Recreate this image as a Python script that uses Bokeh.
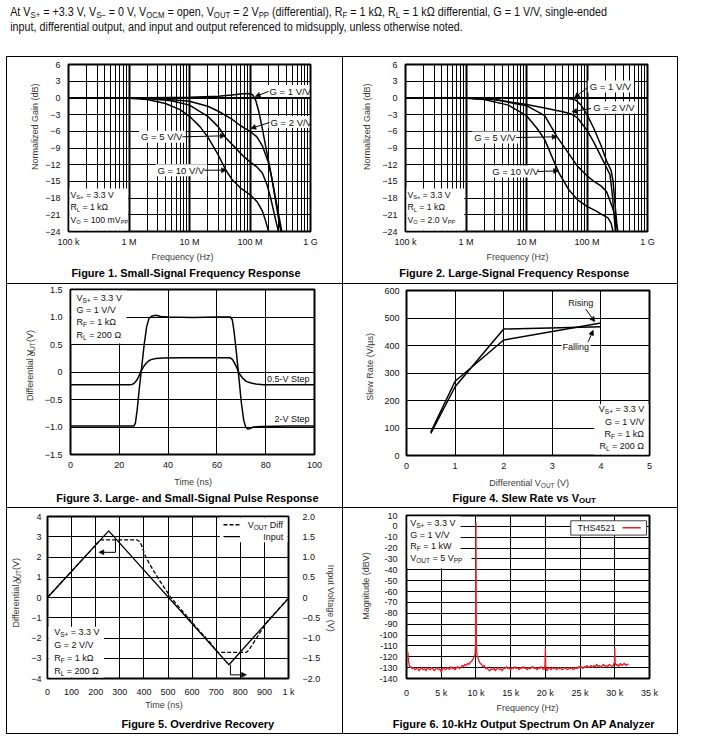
import math, re
from bokeh.plotting import figure
from bokeh.models import (Range1d, LinearAxis, FixedTicker, Label, BoxAnnotation,
                          Arrow, NormalHead, Span, Div, Spacer)
from bokeh.layouts import column, row
from bokeh.embed import file_html
from bokeh.resources import INLINE

FONT = "Liberation Sans"
TICK_C = "#111111"
TITLE_C = "#3a3a3a"

# ---------------- data ----------------
# Figure 1: small-signal frequency response (Hz, dB)
ss_g1_hz = [1e5, 1e6, 1e7, 3e7, 5e7, 7e7, 9e7, 1.1e8, 1.25e8, 1.4e8, 1.6e8, 1.8e8, 2.0e8, 2.3e8, 2.7e8, 3.1e8, 3.4e8]
ss_g1_db = [0.0, 0.0, 0.1, 0.3, 0.5, 0.7, 0.8, 0.6, -0.5, -2.5, -5.5, -8.5, -11.0, -14.5, -19.0, -23.0, -25.0]
ss_g2_hz = [1e5, 1e6, 3e6, 1e7, 2e7, 3e7, 5e7, 7e7, 1e8, 1.3e8, 1.6e8, 2e8, 2.3e8, 2.7e8, 3.1e8, 3.5e8]
ss_g2_db = [0.0, 0.0, -0.1, -0.6, -1.5, -2.4, -3.8, -5.0, -6.0, -7.0, -8.6, -11.5, -14.5, -18.5, -22.0, -25.0]
ss_g5_hz = [1e5, 1e6, 2e6, 5e6, 1e7, 2e7, 3e7, 4e7, 6e7, 8e7, 1e8, 1.3e8, 1.6e8, 1.9e8, 2.2e8, 2.6e8, 3.1e8]
ss_g5_db = [0.0, 0.0, -0.1, -0.5, -1.3, -3.3, -5.2, -7.2, -9.2, -10.6, -11.5, -12.4, -13.5, -15.5, -18.0, -21.5, -25.0]
ss_g10_hz = [1e5, 1e6, 2e6, 4e6, 7e6, 1e7, 1.5e7, 2e7, 3e7, 4e7, 5e7, 7e7, 1e8, 1.3e8, 1.6e8, 1.8e8, 2e8, 2.15e8]
ss_g10_db = [0.0, -0.05, -0.3, -1.0, -2.1, -3.3, -5.2, -7.0, -10.3, -13.0, -14.6, -16.2, -17.4, -18.6, -20.3, -22.0, -23.8, -25.0]

# Figure 2: large-signal frequency response (Hz, dB)
ls_g1_hz = [1e5, 1e6, 1e7, 3e7, 5e7, 6.5e7, 8e7, 1e8, 1.3e8, 1.7e8, 2.1e8, 2.5e8, 2.7e8, 2.9e8, 3.1e8, 3.3e8]
ls_g1_db = [0.0, 0.0, 0.0, 0.0, -0.1, -0.4, -1.3, -3.0, -5.5, -8.5, -11.3, -13.0, -15.0, -19.0, -22.5, -25.0]
ls_g2_hz = [1e5, 1e6, 3e6, 1e7, 2e7, 3e7, 4e7, 5.5e7, 7e7, 1e8, 1.3e8, 1.7e8, 2.1e8, 2.4e8, 2.6e8, 2.8e8, 3.0e8]
ls_g2_db = [0.0, 0.0, -0.3, -1.2, -1.8, -2.2, -2.5, -2.9, -3.6, -5.8, -8.0, -10.5, -12.5, -13.8, -17.0, -21.0, -25.0]
ls_g5_hz = [1e5, 1e6, 3e6, 1e7, 2e7, 3.2e7, 5e7, 7e7, 1e8, 1.3e8, 1.7e8, 2.1e8, 2.4e8, 2.7e8, 3.0e8, 3.3e8]
ls_g5_db = [0.0, 0.0, -0.3, -1.4, -3.2, -7.0, -10.0, -12.3, -14.0, -15.0, -15.8, -16.8, -18.5, -20.0, -22.0, -25.0]
ls_g10_hz = [1e5, 1e6, 2e6, 5e6, 1e7, 1.5e7, 2e7, 3.4e7, 5e7, 7e7, 1e8, 1.4e8, 1.8e8, 2.2e8, 2.5e8, 2.7e8, 2.85e8]
ls_g10_db = [0.0, -0.05, -0.3, -1.3, -3.2, -5.5, -7.5, -13.4, -16.5, -18.3, -19.5, -20.3, -21.0, -21.5, -22.5, -24.0, -25.0]

freq_ticks = [1e5, 1e6, 1e7, 1e8, 1e9]
freq_labels = ["100 k", "1 M", "10 M", "100 M", "1 G"]
gain_ticks = [-24, -21, -18, -15, -12, -9, -6, -3, 0, 3, 6]
gain_labels = ["\u221224", "\u221221", "\u221218", "\u221215", "\u221212", "\u22129", "\u22126", "\u22123", "0", "3", "6"]

# Figure 3: pulse response (ns, V)
step2_ns = [0, 26.0, 26.6, 27.3, 28.2, 29.2, 30.2, 31.2, 32.2, 33.5, 35, 37, 40, 50, 60, 65.5,
            66.3, 67, 68, 69, 70, 71, 71.8, 72.6, 73.5, 75, 78, 90, 100]
step2_v = [-0.98, -0.98, -0.93, -0.7, -0.3, 0.1, 0.5, 0.82, 0.98, 1.02, 1.03, 1.01, 1.0, 0.99, 1.0, 1.0,
           0.95, 0.75, 0.35, -0.1, -0.55, -0.88, -1.0, -1.035, -1.03, -1.0, -0.99, -0.98, -0.98]
step05_ns = [0, 25, 26, 27, 28, 29, 30, 31, 32, 33, 35, 38, 45, 55, 65, 65.8, 66.5, 67.5, 68.5,
             69.5, 70.5, 72, 74, 76, 79, 85, 100]
step05_v = [-0.23, -0.23, -0.21, -0.16, -0.08, 0.02, 0.1, 0.16, 0.2, 0.225, 0.245, 0.255, 0.26, 0.26,
            0.26, 0.25, 0.22, 0.14, 0.04, -0.05, -0.11, -0.17, -0.2, -0.22, -0.23, -0.23, -0.23]
t3_ticks = [0, 20, 40, 60, 80, 100]
t3_labels = ["0", "20", "40", "60", "80", "100"]
v3_ticks = [-1.5, -1.0, -0.5, 0, 0.5, 1.0, 1.5]
v3_labels = ["\u22121.5", "\u22121.0", "\u22120.5", "0", "0.5", "1.0", "1.5"]

# Figure 4: slew rate vs Vout
vout_v = [0.5, 1, 2, 4]
rising_sr = [85, 270, 420, 482]
falling_sr = [80, 250, 460, 468]
x4_ticks = [0, 1, 2, 3, 4, 5]
x4_labels = ["0", "1", "2", "3", "4", "5"]
y4_ticks = [0, 100, 200, 300, 400, 500, 600]
y4_labels = ["0", "100", "200", "300", "400", "500", "600"]

# Figure 5: overdrive recovery
input_ns = [0, 254, 753, 1000]
input_v = [0.0, 1.645, -1.66, -0.02]
vout_ns = [0, 220, 370, 383, 393, 403, 425, 465, 512, 560, 620, 680, 706, 825,
           835, 845, 858, 872, 890, 910, 1000]
vout_diff = [0.0, 2.85, 2.85, 2.76, 2.5, 2.12, 1.62, 0.84, 0.0, -0.68, -1.5, -2.3, -2.71, -2.71,
             -2.6, -2.42, -2.18, -1.92, -1.58, -1.22, -0.02]
t5_ticks = [0, 100, 200, 300, 400, 500, 600, 700, 800, 900, 1000]
t5_labels = ["0", "100", "200", "300", "400", "500", "600", "700", "800", "900", "1 k"]
v5_ticks = [-4, -3, -2, -1, 0, 1, 2, 3, 4]
v5_labels = ["\u22124", "\u22123", "\u22122", "\u22121", "0", "1", "2", "3", "4"]
in5_ticks = [-2.0, -1.5, -1.0, -0.5, 0, 0.5, 1.0, 1.5, 2.0]
in5_labels = ["\u22122.0", "\u22121.5", "\u22121.0", "\u22120.5", "0", "0.5", "1.0", "1.5", "2.0"]

# Figure 6: output spectrum (kHz, dBV)
spec_khz = [0.2, 0.3, 0.45, 0.6, 0.8, 1.0, 1.2, 1.4, 1.6, 1.8,
            2.0, 2.2, 2.4, 2.6, 2.8, 3.0, 3.2, 3.4, 3.6, 3.8,
            4.0, 4.2, 4.4, 4.6, 4.8, 5.0, 5.2, 5.4, 5.6, 5.8,
            6.0, 6.2, 6.4, 6.6, 6.8, 7.0, 7.2, 7.4, 7.6, 7.8,
            8.0, 8.2, 8.4, 8.6, 8.8, 9.0, 9.2, 9.4, 9.6, 9.75,
            9.88, 9.94, 9.98, 10.0, 10.02, 10.06, 10.12, 10.2, 10.3, 10.45,
            10.6, 10.8, 11.0, 11.2, 11.4, 11.6, 11.8, 12.0, 12.2, 12.4,
            12.6, 12.8, 13.0, 13.2, 13.4, 13.6, 13.8, 14.0, 14.2, 14.4,
            14.6, 14.8, 15.0, 15.2, 15.4, 15.6, 15.8, 16.0, 16.2, 16.4,
            16.6, 16.8, 17.0, 17.2, 17.4, 17.6, 17.8, 18.0, 18.2, 18.4,
            18.6, 18.8, 19.0, 19.2, 19.4, 19.6, 19.8, 19.95, 20.0, 20.05,
            20.2, 20.4, 20.6, 20.8, 21.0, 21.2, 21.4, 21.6, 21.8, 22.0,
            22.2, 22.4, 22.6, 22.8, 23.0, 23.2, 23.4, 23.6, 23.8, 24.0,
            24.2, 24.4, 24.6, 24.8, 25.0, 25.2, 25.4, 25.6, 25.8, 26.0,
            26.2, 26.4, 26.6, 26.8, 27.0, 27.2, 27.4, 27.6, 27.8, 28.0,
            28.2, 28.4, 28.6, 28.8, 29.0, 29.2, 29.4, 29.6, 29.8, 29.95,
            30.0, 30.05, 30.2, 30.4, 30.6, 30.8, 31.0, 31.2, 31.4, 31.6,
            31.8, 32.0]
spec_dbv = [-116, -124, -130, -129, -131, -130, -132, -131, -130, -133,
            -131, -130, -132, -131, -133, -130, -131, -132, -130, -131,
            -133, -131, -130, -132, -131, -134, -131, -130, -132, -131,
            -130, -132, -129, -131, -130, -132, -130, -129, -131, -130,
            -128, -129, -127, -128, -126, -127, -125, -124, -122, -120,
            -118, -108, -30, 4, -30, -108, -117, -119, -121, -124,
            -126, -127, -129, -128, -131, -130, -132, -133, -131, -132,
            -130, -133, -131, -130, -132, -131, -133, -130, -131, -129,
            -131, -130, -132, -130, -131, -129, -131, -130, -132, -130,
            -131, -129, -131, -130, -132, -130, -131, -130, -129, -131,
            -130, -132, -130, -131, -129, -131, -132, -128, -112, -128,
            -133, -131, -130, -132, -130, -131, -130, -132, -130, -131,
            -130, -132, -131, -130, -131, -132, -130, -131, -130, -132,
            -131, -130, -131, -129, -130, -129, -131, -129, -130, -128,
            -130, -129, -128, -130, -128, -129, -127, -129, -128, -130,
            -128, -127, -129, -128, -129, -127, -128, -129, -128, -125,
            -112, -125, -128, -127, -129, -126, -128, -127, -126, -128,
            -127, -127]
f6_ticks = [0, 5000, 10000, 15000, 20000, 25000, 30000, 35000]
f6_labels = ["0", "5 k", "10 k", "15 k", "20 k", "25 k", "30 k", "35 k"]
m6_ticks = [-140, -130, -120, -110, -100, -90, -80, -70, -60, -50, -40, -30, -20, -10, 0, 10]
m6_labels = ["-140", "-130", "-120", "-110", "-100", "-90", "-80", "-70", "-60", "-50",
             "-40", "-30", "-20", "-10", "0", "10"]

# ---------------- text metrics (Arial / Liberation Sans, per 1000 em) ----------------
AW = {' ': 278, '!': 278, '(': 333, ')': 333, '+': 584, ',': 278, '-': 333, '.': 278, '/': 278,
      ':': 278, '=': 584, '\u03a9': 768, '\u00b5': 577, '\u2212': 584, '\u2013': 556,
      'A': 667, 'B': 667, 'C': 722, 'D': 722, 'E': 667, 'F': 611, 'G': 778, 'H': 722, 'I': 278,
      'J': 500, 'K': 667, 'L': 556, 'M': 833, 'N': 722, 'O': 778, 'P': 667, 'Q': 778, 'R': 722,
      'S': 667, 'T': 611, 'U': 722, 'V': 667, 'W': 944, 'X': 667, 'Y': 667, 'Z': 611,
      'a': 556, 'b': 556, 'c': 500, 'd': 556, 'e': 556, 'f': 278, 'g': 556, 'h': 556, 'i': 222,
      'j': 222, 'k': 500, 'l': 222, 'm': 833, 'n': 556, 'o': 556, 'p': 556, 'q': 556, 'r': 333,
      's': 500, 't': 278, 'u': 556, 'v': 500, 'w': 722, 'x': 500, 'y': 500, 'z': 500}
BW = {' ': 278, '.': 278, '-': 333,
      'A': 722, 'D': 722, 'F': 611, 'H': 722, 'L': 611, 'O': 778, 'P': 667, 'R': 722, 'S': 667,
      'T': 611, 'U': 722, 'V': 667,
      'a': 556, 'c': 556, 'd': 611, 'e': 556, 'g': 611, 'h': 611, 'i': 278, 'k': 556, 'l': 278,
      'm': 889, 'n': 611, 'o': 611, 'p': 611, 'q': 611, 'r': 389, 's': 556, 't': 333, 'u': 611,
      'v': 556, 'w': 778, 'y': 556, 'z': 500}


class Frame:
    """maps page pixel coordinates to data coordinates of a plot frame"""
    def __init__(self, fl, ft, fr, fb, x0, x1, y0, y1, xlog=False):
        self.fl, self.ft, self.fr, self.fb = fl, ft, fr, fb
        self.x0, self.x1, self.y0, self.y1, self.xlog = x0, x1, y0, y1, xlog

    def x(self, px):
        t = (px - self.fl) / (self.fr - self.fl)
        if self.xlog:
            a, b = math.log10(self.x0), math.log10(self.x1)
            return 10 ** (a + t * (b - a))
        return self.x0 + t * (self.x1 - self.x0)

    def y(self, py):
        t = (py - self.ft) / (self.fb - self.ft)
        return self.y1 - t * (self.y1 - self.y0)


class Ident:
    def x(self, px):
        return px

    def y(self, py):
        return py


ID = Ident()


def parse(s):
    parts, i = [], 0
    for m in re.finditer(r"_\{([^}]*)\}", s):
        if m.start() > i:
            parts.append((s[i:m.start()], False))
        parts.append((m.group(1), True))
        i = m.end()
    if i < len(s):
        parts.append((s[i:], False))
    return parts


def rich(p, F, px, py, s, size=9.0, align="left", angle=0.0, color="#111111", bold=False, subk=0.72):
    parts = parse(s)
    tbl = BW if bold else AW
    sub = size * subk
    ws = [sum(tbl.get(c, 556) for c in t) * (sub if sb else size) / 1000.0 for t, sb in parts]
    tot = sum(ws)
    pos = {"left": 0.0, "center": -tot / 2.0, "right": -tot}[align]
    ca, sa = math.cos(angle), math.sin(angle)
    for (t, sb), w in zip(parts, ws):
        fs = sub if sb else size
        lead = len(t) - len(t.lstrip(" "))
        txt = t.strip(" ")
        if txt:
            off = pos + lead * tbl[" "] * fs / 1000.0
            sh = size * 0.28 if sb else 0.0
            qx = px + off * ca + sh * sa
            qy = py - off * sa + sh * ca
            p.add_layout(Label(x=F.x(qx), y=F.y(qy), text=txt, angle=angle,
                               text_align="left", text_baseline="middle",
                               text_font=FONT, text_font_size=f"{fs:.1f}px",
                               text_color=color,
                               text_font_style="bold" if bold else "normal"))
        pos += w


def wbox(p, F, x0, y0, x1, y1, line=None):
    p.add_layout(BoxAnnotation(left=F.x(x0), right=F.x(x1), top=F.y(y0), bottom=F.y(y1),
                               fill_color="white", fill_alpha=1.0,
                               line_color=line, line_width=1, line_alpha=1.0))


def arrow(p, F, x0, y0, x1, y1, head=True, dash="solid", color="black", width=1.0):
    p.add_layout(Arrow(x_start=F.x(x0), y_start=F.y(y0), x_end=F.x(x1), y_end=F.y(y1),
                       start=None,
                       end=NormalHead(size=5, fill_color=color, line_color=color, line_width=0.5) if head else None,
                       line_color=color, line_width=width, line_dash=dash))


def make_fig(w, h, bl, br, bt, bb, xr, yr, xtype="linear"):
    p = figure(width=w, height=h, x_range=xr, y_range=yr, x_axis_type=xtype,
               output_backend="svg", toolbar_location=None,
               min_border_left=bl, min_border_right=br, min_border_top=bt, min_border_bottom=bb)
    p.outline_line_color = "black"
    p.outline_line_width = 2
    p.outline_line_alpha = 1.0
    p.background_fill_color = "white"
    p.border_fill_color = "white"
    p.grid.grid_line_color = "black"
    p.grid.grid_line_width = 1
    p.grid.grid_line_alpha = 1.0
    return p


def strip(x0, y0, w, h):
    """text-only panel whose data coordinates are page pixels"""
    s = figure(width=w, height=h, x_range=Range1d(x0, x0 + w), y_range=Range1d(y0 + h, y0),
               output_backend="svg", toolbar_location=None,
               x_axis_location=None, y_axis_location=None,
               min_border_left=0, min_border_right=0, min_border_top=0, min_border_bottom=0)
    s.outline_line_color = None
    s.background_fill_color = "white"
    s.border_fill_color = "white"
    s.grid.visible = False
    return s


def build_cell(x0, y0, W, H, frame, left_w, bottom_h, xr, yr, xtype="linear", right_w=0):
    fl, ft, fr, fb = frame
    top_h = H - bottom_h
    main_x0 = x0 + left_w
    main_w = W - left_w - right_w
    p = make_fig(main_w, top_h, fl - main_x0, (x0 + W - right_w) - fr, ft - y0,
                 (y0 + top_h) - fb, xr, yr, xtype)
    L = strip(x0, y0, left_w, top_h)
    B = strip(x0, y0 + top_h, W, bottom_h)
    R = strip(x0 + W - right_w, y0, right_w, top_h) if right_w else None
    kids = [L, p] + ([R] if R is not None else [])
    return p, L, B, R, column(row(*kids), B)


def set_axis(ax, ticks, labels, standoff, minor=None):
    if minor is not None:
        ax.ticker = FixedTicker(ticks=ticks, minor_ticks=minor)
    else:
        ax.ticker = FixedTicker(ticks=ticks)
    ax.major_label_overrides = {t: l for t, l in zip(ticks, labels)}
    ax.axis_line_color = None
    ax.major_tick_in = 0
    ax.major_tick_out = 0
    ax.minor_tick_in = 0
    ax.minor_tick_out = 0
    ax.major_label_text_font = FONT
    ax.major_label_text_font_size = "9px"
    ax.major_label_text_color = TICK_C
    ax.major_label_standoff = standoff


minor_freq = [m * d for d in (1e5, 1e6, 1e7, 1e8) for m in range(2, 10)]


# ---------------- Figures 1 and 2 ----------------
def freq_cell(x0, W, left_w, frame, curves, labels_spec, box_lines, box_right,
              ytitle_x, xtitle_x, cap_x, caption):
    p, L, B, R, lay = build_cell(x0, 55, W, 226, frame, left_w, 34,
                                 Range1d(1e5, 1e9), Range1d(-24, 6), "log")
    FL, FT, FR, FB = frame
    F = Frame(FL, FT, FR, FB, 1e5, 1e9, -24, 6, xlog=True)
    set_axis(p.xaxis[0], freq_ticks, freq_labels, 5, minor_freq)
    set_axis(p.yaxis[0], gain_ticks, gain_labels, 8)
    p.xgrid.grid_line_width = 2
    p.xgrid.minor_grid_line_color = "black"
    p.xgrid.minor_grid_line_width = 1
    p.add_layout(Span(location=0, dimension="width", line_color="black", line_width=2, level="underlay"))
    for fx, fy in curves:
        p.line(fx, fy, line_color="black", line_width=1.5)
    wbox(p, F, FL + 1, 186, box_right, FB - 1)
    for i, t in enumerate(box_lines):
        rich(p, F, FL + 2, 192 + 12.6 * i, t, 8.7, subk=0.66)
    for (txt, lx, ly, ax0, ay0, ax1, ay1) in labels_spec:
        w = sum(AW.get(c, 556) for c in txt) * 9.5 / 1000.0
        wbox(p, F, lx - 2, ly - 6, min(lx + w + 3, FR - 1), ly + 6)
        rich(p, F, lx, ly, txt, 9.5)
        arrow(p, F, ax0, ay0, ax1, ay1)
    rich(L, ID, ytitle_x, 133, "Normalized Gain (dB)", 9, "center", math.pi / 2, TITLE_C)
    rich(B, ID, xtitle_x, 254, "Frequency (Hz)", 9, "center", 0, TITLE_C)
    rich(B, ID, cap_x, 270, caption, 11, "center", 0, "black", True)
    return lay


lay1 = freq_cell(15, 335, 35, (76, 62, 318, 229),
                 [(ss_g1_hz, ss_g1_db), (ss_g2_hz, ss_g2_db), (ss_g5_hz, ss_g5_db), (ss_g10_hz, ss_g10_db)],
                 [("G = 1 V/V", 277, 88.5, 276, 89, 262.7, 94),
                  ("G = 2 V/V", 278, 119.5, 277, 120, 258.3, 126),
                  ("G = 5 V/V", 148.5, 134.3, 190, 134.3, 232.7, 133.3),
                  ("G = 10 V/V", 165, 167.7, 211.7, 167.7, 234, 167.7)],
                 ["V_{S+} = 3.3 V", "R_{L} = 1 k\u03a9", "V_{O} = 100 mV_{PP}"], 135.5,
                 42, 190, 193.5, "Figure 1. Small-Signal Frequency Response")

lay2 = freq_cell(351, 334, 36, (412, 62, 655, 229),
                 [(ls_g1_hz, ls_g1_db), (ls_g2_hz, ls_g2_db), (ls_g5_hz, ls_g5_db), (ls_g10_hz, ls_g10_db)],
                 [("G = 1 V/V", 597, 84, 595, 85, 581.7, 95),
                  ("G = 2 V/V", 600.5, 105, 598.3, 106, 579, 109.3),
                  ("G = 5 V/V", 481, 135, 523.3, 135, 564.3, 134.3),
                  ("G = 10 V/V", 499, 169, 545, 169, 565.7, 168.3)],
                 ["V_{S+} = 3.3 V", "R_{L} = 1 k\u03a9", "V_{O} = 2.0 V_{PP}"], 471,
                 374, 525, 521.7, "Figure 2. Large-Signal Frequency Response")

# ---------------- Figure 3 ----------------
p3, L3, B3, _, lay3 = build_cell(15, 282, 335, 223, (78, 287, 322, 452), 33, 34,
                                 Range1d(0, 100), Range1d(-1.5, 1.5))
F3 = Frame(78, 287, 322, 452, 0, 100, -1.5, 1.5)
set_axis(p3.xaxis[0], t3_ticks, t3_labels, 7)
set_axis(p3.yaxis[0], v3_ticks, v3_labels, 8)
p3.line(step2_ns, step2_v, line_color="black", line_width=1.5)
p3.line(step05_ns, step05_v, line_color="black", line_width=1.5)
wbox(p3, F3, 79, 288, 134, 341)
for i, t in enumerate(["V_{S+} = 3.3 V", "G = 1 V/V", "R_{F} = 1 k\u03a9", "R_{L} = 200 \u03a9"]):
    rich(p3, F3, 84, 295 + 12.4 * i, t, 9)
rich(p3, F3, 317, 376.7, "0.5-V Step", 9, "right")
rich(p3, F3, 317, 416.7, "2-V Step", 9, "right")
rich(L3, ID, 37.3, 370, "Differential V_{OUT} (V)", 9, "center", math.pi / 2, TITLE_C)
rich(B3, ID, 200.8, 479, "Time (ns)", 9, "center", 0, TITLE_C)
rich(B3, ID, 195, 495, "Figure 3. Large- and Small-Signal Pulse Response", 11, "center", 0, "black", True)

# ---------------- Figure 4 ----------------
p4, L4, B4, _, lay4 = build_cell(351, 282, 334, 223, (414, 288, 657, 453), 37, 33,
                                 Range1d(0, 5), Range1d(0, 600))
F4 = Frame(414, 288, 657, 453, 0, 5, 0, 600)
set_axis(p4.xaxis[0], x4_ticks, x4_labels, 7)
set_axis(p4.yaxis[0], y4_ticks, y4_labels, 7)
p4.line(vout_v, rising_sr, line_color="black", line_width=1.5)
p4.line(vout_v, falling_sr, line_color="black", line_width=1.5)
rich(p4, F4, 588.3, 300.7, "Rising", 9, "center")
arrow(p4, F4, 593.3, 306.7, 602.3, 319.3)
wbox(p4, F4, 569, 338, 598, 351)
rich(p4, F4, 583.3, 344.3, "Falling", 9, "center")
arrow(p4, F4, 595.7, 339.3, 600.7, 327.7)
wbox(p4, F4, 601.7, 401.7, 656, 452)
for i, t in enumerate(["V_{S+} = 3.3 V", "G = 1 V/V", "R_{F} = 1 k\u03a9", "R_{L} = 200 \u03a9"]):
    rich(p4, F4, 651.7, 406.7 + 12.4 * i, t, 9, "right")
rich(L4, ID, 377.7, 375, "Slew Rate (V/\u00b5s)", 9, "center", math.pi / 2, TITLE_C)
rich(B4, ID, 536.7, 480, "Differential V_{OUT} (V)", 9, "center", 0, TITLE_C)
rich(B4, ID, 531.7, 495, "Figure 4. Slew Rate vs V_{OUT}", 11, "center", 0, "black", True)

# ---------------- Figure 5 ----------------
p5, L5, B5, R5, lay5 = build_cell(15, 506, 335, 225, (55, 514, 297, 677), 18, 34,
                                  Range1d(0, 1000), Range1d(-4, 4), right_w=19)
F5 = Frame(55, 514, 297, 677, 0, 1000, -4, 4)
p5.extra_y_ranges = {"inp": Range1d(-2, 2)}
set_axis(p5.xaxis[0], t5_ticks, t5_labels, 8)
set_axis(p5.yaxis[0], v5_ticks, v5_labels, 6)
rax = LinearAxis(y_range_name="inp")
set_axis(rax, in5_ticks, in5_labels, 14)
p5.add_layout(rax, "right")
p5.line(input_ns, input_v, y_range_name="inp", line_color="black", line_width=1.3)
p5.line(vout_ns, vout_diff, line_color="black", line_width=1.3, line_dash="4 2")
HEAD = dict(fill_color="black", line_color="black", line_width=0.5)
p5.add_layout(Arrow(x_start=282, y_start=2.84, x_end=282, y_end=2.23, start=None, end=None,
                    line_color="black", line_width=1))
p5.add_layout(Arrow(x_start=282, y_start=2.23, x_end=213, y_end=2.23, start=None,
                    end=NormalHead(size=5, **HEAD), line_color="black", line_width=1))
p5.add_layout(Arrow(x_start=759, y_start=-3.32, x_end=759, y_end=-3.82, start=None, end=None,
                    line_color="black", line_width=1))
p5.add_layout(Arrow(x_start=759, y_start=-3.82, x_end=826, y_end=-3.82, start=None,
                    end=NormalHead(size=5, **HEAD), line_color="black", line_width=1))
wbox(p5, F5, 228, 515, 296, 540)
arrow(p5, F5, 231.7, 522.3, 248.3, 522.3, head=False, dash="4 2", width=1.3)
arrow(p5, F5, 231.7, 534.3, 248.3, 534.3, head=False, width=1.3)
rich(p5, F5, 291.7, 522.3, "V_{OUT} Diff", 9, "right")
rich(p5, F5, 291.7, 534.3, "Input", 9, "right")
wbox(p5, F5, 56, 625, 111.7, 676)
for i, t in enumerate(["V_{S+} = 3.3 V", "G = 2 V/V", "R_{F} = 1 k\u03a9", "R_{L} = 200 \u03a9"]):
    rich(p5, F5, 61.7, 630.7 + 12.8 * i, t, 9)
rich(L5, ID, 23.3, 597, "Differential V_{OUT} (V)", 9, "center", math.pi / 2, TITLE_C)
rich(R5, ID, 338, 596.7, "Input Voltage (V)", 9, "center", -math.pi / 2, TITLE_C)
rich(B5, ID, 171.7, 702.5, "Time (ns)", 9, "center", 0, TITLE_C)
rich(B5, ID, 205.3, 721.7, "Figure 5. Overdrive Recovery", 11, "center", 0, "black", True)

# ---------------- Figure 6 ----------------
p6, L6, B6, _, lay6 = build_cell(351, 506, 334, 225, (414, 513, 657, 677), 33, 33,
                                 Range1d(0, 35000), Range1d(-140, 10))
F6 = Frame(414, 513, 657, 677, 0, 35000, -140, 10)
set_axis(p6.xaxis[0], f6_ticks, f6_labels, 9)
set_axis(p6.yaxis[0], m6_ticks, m6_labels, 9)
spec_hz = [k * 1000.0 for k in spec_khz]
p6.line(spec_hz, spec_dbv, line_color="#ee1c25", line_width=1.3)
wbox(p6, F6, 415, 514, 468, 566)
wbox(p6, F6, 460, 549, 479, 562)
for i, t in enumerate(["V_{S+} = 3.3 V", "G = 1 V/V", "R_{F} = 1 kW", "V_{OUT} = 5 V_{PP}"]):
    rich(p6, F6, 417.7, 520.7 + 11.7 * i, t, 9)
wbox(p6, F6, 578.3, 518.3, 654, 532.7, line="#444444")
rich(p6, F6, 585, 525.3, "THS4521", 9)
arrow(p6, F6, 630, 525.3, 648.3, 525.3, head=False, color="#ee1c25", width=1.3)
rich(L6, ID, 373.3, 595, "Magnitude (dBV)", 9, "center", math.pi / 2, TITLE_C)
rich(B6, ID, 535, 705.7, "Frequency (Hz)", 9, "center", 0, TITLE_C)
rich(B6, ID, 531.7, 721, "Figure 6. 10-kHz Output Spectrum On AP Analyzer", 11, "center", 0, "black", True)

# ---------------- page layout ----------------
SUB = '<sub style="font-size:0.72em;line-height:0;vertical-align:-0.25em;">'
header_html = (
    '<div style="font-family:\'Liberation Sans\',Arial,sans-serif;'
    'font-size:12.5px;line-height:15px;color:#111;white-space:nowrap;padding-left:6px;'
    'transform:scaleX(0.862);transform-origin:0 0;">'
    'At V' + SUB + 'S+</sub> = +3.3 V, V' + SUB + 'S\u2013</sub> = 0 V, V' + SUB + 'OCM</sub> = open, '
    'V' + SUB + 'OUT</sub> = 2 V' + SUB + 'PP</sub> (differential), R' + SUB + 'F</sub> = 1 k\u03a9, '
    'R' + SUB + 'L</sub> = 1 k\u03a9 differential, G = 1 V/V, single-ended<br>'
    'input, differential output, and input and output referenced to midsupply, unless otherwise noted.'
    '</div>')
hdr = Div(text=header_html, width=690, height=46)


def vl(h):
    return Spacer(width=1, height=h, styles={"background-color": "black"})


def hl():
    return row(Spacer(width=6, height=1), Spacer(width=672, height=1, styles={"background-color": "black"}))


def rw(h, a, b):
    return row(Spacer(width=6, height=h), vl(h), a, vl(h), b, vl(h))


layout = column(hdr, hl(), rw(226, lay1, lay2), hl(), rw(223, lay3, lay4), hl(), rw(225, lay5, lay6), hl())

open("out.html", "w").write(file_html(layout, INLINE, title="THS4521 typical characteristics"))
